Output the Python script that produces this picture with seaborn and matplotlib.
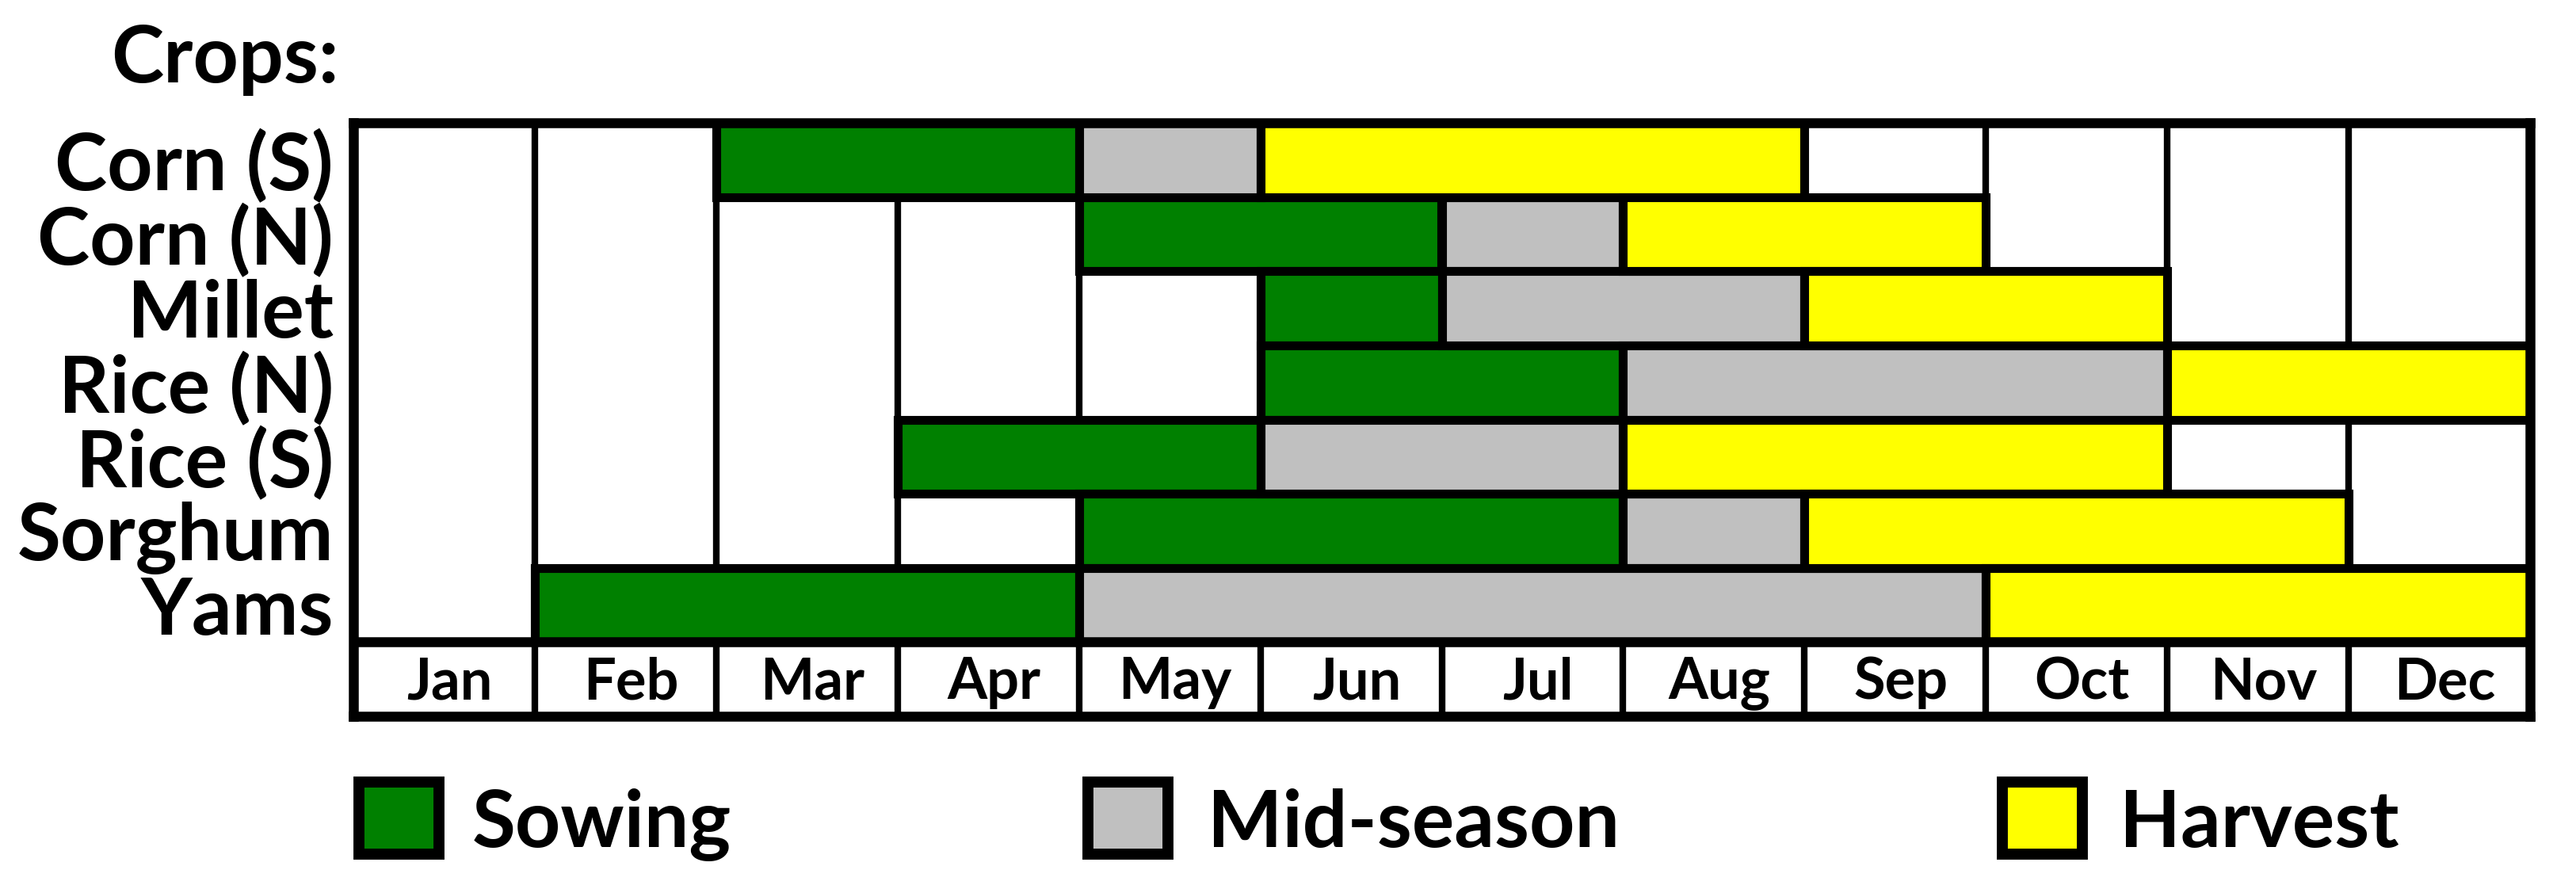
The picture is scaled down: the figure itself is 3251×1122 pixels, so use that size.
import numpy as np
import pandas as pd
import matplotlib.pyplot as plt
from matplotlib.patches import Rectangle
import seaborn as sns

crops = ['Corn (S)', 'Corn (N)', 'Millet', 'Rice (N)', 'Rice (S)', 'Sorghum', 'Yams']
months = ['Jan', 'Feb', 'Mar', 'Apr', 'May', 'Jun', 'Jul', 'Aug', 'Sep', 'Oct', 'Nov', 'Dec']

# month numbers (1 = Jan) where each stage starts, and last harvest month
sowing_start = [3, 5, 6, 6, 4, 5, 2]
midseason_start = [5, 7, 7, 8, 6, 8, 5]
harvest_start = [6, 8, 9, 11, 8, 9, 10]
harvest_end = [8, 9, 10, 12, 10, 11, 12]

stages = ['Sowing', 'Mid-season', 'Harvest']
stage_colors = ['#008000', '#c0c0c0', '#ffff00']

sns.set_style('white')
plt.rcParams['font.family'] = ['Lato', 'DejaVu Sans']
plt.rcParams['font.weight'] = 'bold'
plt.rcParams['text.color'] = 'black'
plt.rcParams['ytick.color'] = 'black'

# one row per bar segment
rows = []
for i, crop in enumerate(crops):
    bounds = [sowing_start[i], midseason_start[i], harvest_start[i], harvest_end[i] + 1]
    for j, stage in enumerate(stages):
        rows.append({'crop': crop, 'row': i, 'stage': stage,
                     'start': bounds[j] - 1, 'length': bounds[j + 1] - bounds[j]})
df = pd.DataFrame(rows)

W, H = 3251, 1122
fig = plt.figure(figsize=(W / 100, H / 100), dpi=100)
ax = fig.add_axes([446 / W, 1 - 904 / H, 2747 / W, 749 / H])
ax.set_xlim(0, 12)
ax.set_ylim(8, 0)

# borders of the empty (white) month cells
for i in range(len(crops)):
    busy = set(range(sowing_start[i], harvest_end[i] + 1))
    for k in range(1, 12):
        if k not in busy or (k + 1) not in busy:
            ax.vlines(k, i, i + 1, color='black', lw=6, zorder=1)

for stage, color in zip(stages, stage_colors):
    d = df[df['stage'] == stage]
    ax.barh(d['row'] + 0.5, d['length'], left=d['start'], height=1, color=color,
            edgecolor='black', linewidth=8, zorder=2)

# month row at the bottom
ax.axhline(7, color='black', lw=9, zorder=3)
ax.vlines(range(1, 12), 7, 8, color='black', lw=6, zorder=3)
for m, name in enumerate(months):
    ax.text(m + 0.53, 7.55, name, ha='center', va='center', fontsize=52, fontweight='bold')

ax.set_xticks([])
ax.set_yticks(np.arange(len(crops)) + 0.5)
ax.set_yticklabels(crops, fontsize=72, fontweight='bold', color='black')
ax.tick_params(axis='y', length=0, pad=18)
for s in ax.spines.values():
    s.set_visible(True)
    s.set_color('black')
    s.set_linewidth(9)

fig.text(428 / W, 1 - 104 / H, 'Crops:', ha='right', va='baseline', fontsize=72, fontweight='bold')

# legend
box_x = [446, 1366, 2520]
text_x = [596, 1524, 2675]
for bx, tx, stage, color in zip(box_x, text_x, stages, stage_colors):
    fig.add_artist(Rectangle(((bx + 7) / W, 1 - 1078 / H), 101 / W, 91 / H,
                             transform=fig.transFigure, facecolor=color,
                             edgecolor='black', linewidth=10))
    fig.text(tx / W, 1 - 1069 / H, stage, ha='left', va='baseline', fontsize=72, fontweight='bold')

fig.savefig('out.png', dpi=100)
